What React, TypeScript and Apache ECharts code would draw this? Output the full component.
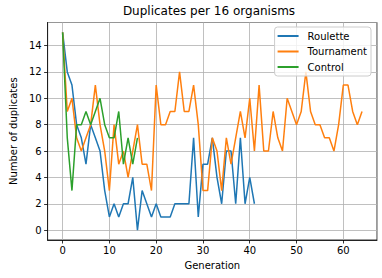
import React, { useEffect, useRef } from "react";
import * as echarts from "echarts";

const roulette = [15, 12, 11, 8, 7, 5, 8, 7, 6, 3, 1, 2, 1, 2, 2, 4, 0, 3, 2, 1, 2, 1, 1, 1, 2, 2, 2, 2, 7, 1, 5, 5, 7, 4, 2, 6, 6, 2, 7, 2, 4, 2];
const tournament = [15, 9, 10, 7, 6, 7, 8, 11, 8, 6, 3, 8, 5, 6, 4, 6, 8, 5, 5, 3, 11, 8, 8, 9, 9, 12, 9, 9, 11, 8, 3, 3, 7, 6, 3, 7, 5, 7, 9, 7, 10, 6, 11, 6, 6, 9, 7, 6, 10, 9, 8, 9, 12, 9, 8, 8, 7, 7, 6, 8, 11, 11, 9, 8, 9];
const control = [15, 7, 3, 8, 8, 9, 8, 9, 10, 8, 7, 7, 9, 5, 7, 5, 7];
const seriesNames = ["Roulette", "Tournament", "Control"];
const colors = ["#1f77b4", "#ff7f0e", "#2ca02c"];

const toPairs = (arr: number[]) => arr.map((v, i) => [i, v]);

export default function App() {
  const ref = useRef<HTMLDivElement>(null);
  useEffect(() => {
    if (!ref.current) return;
    const chart = echarts.init(ref.current, null, { renderer: "svg" });
    const font = "DejaVu Sans";
    const allData = [roulette, tournament, control];
    chart.setOption({
      animation: false,
      title: {
        text: "Duplicates per 16 organisms",
        left: 209,
        top: 5,
        padding: 0,
        textAlign: "center",
        textStyle: { fontFamily: font, fontSize: 12, fontWeight: "normal", color: "#000" },
      },
      legend: {
        data: seriesNames,
        orient: "vertical",
        right: 11,
        top: 27,
        padding: [3, 4, 3, 3],
        itemGap: 3.5,
        itemWidth: 21,
        itemHeight: 2,
        icon: "rect",
        borderColor: "#cccccc",
        borderWidth: 1,
        borderRadius: 3,
        backgroundColor: "rgba(255,255,255,0.8)",
        textStyle: { fontFamily: font, fontSize: 10, color: "#000", lineHeight: 12, padding: [0, 0, 0, 4] },
      },
      grid: {
        left: 41,
        right: 5,
        top: 22.5,
        bottom: 38,
        show: true,
        borderColor: "#000",
        borderWidth: 0.8,
        backgroundColor: "transparent",
      },
      xAxis: {
        type: "value",
        min: -3.2,
        max: 67.2,
        splitNumber: 7,
        name: "Generation",
        nameLocation: "middle",
        nameGap: 20,
        nameTextStyle: { fontFamily: font, fontSize: 10, color: "#000" },
        axisLine: { show: true, onZero: false, lineStyle: { color: "#000", width: 0.8 } },
        axisTick: { show: true, length: 3.5, lineStyle: { color: "#000", width: 0.8 } },
        axisLabel: { fontFamily: font, fontSize: 10, color: "#000", margin: 5, showMinLabel: false, showMaxLabel: false },
        splitLine: { show: true, lineStyle: { color: "#b0b0b0", width: 0.8 } },
      },
      yAxis: {
        type: "value",
        min: -0.75,
        max: 15.75,
        splitNumber: 8,
        name: "Number of duplicates",
        nameLocation: "middle",
        nameGap: 24,
        nameTextStyle: { fontFamily: font, fontSize: 10, color: "#000" },
        axisLine: { show: true, onZero: false, lineStyle: { color: "#000", width: 0.8 } },
        axisTick: { show: true, length: 3.5, lineStyle: { color: "#000", width: 0.8 } },
        axisLabel: { fontFamily: font, fontSize: 10, color: "#000", margin: 6, showMinLabel: false, showMaxLabel: false },
        splitLine: { show: true, lineStyle: { color: "#b0b0b0", width: 0.8 } },
      },
      series: seriesNames.map((name, i) => ({
        name,
        type: "line",
        data: toPairs(allData[i]),
        showSymbol: false,
        symbol: "none",
        color: colors[i],
        lineStyle: { color: colors[i], width: 1.5 },
      })),
    });
    return () => chart.dispose();
  }, []);
  return <div ref={ref} style={{ position: "absolute", left: 0, top: 0, width: 382, height: 278 }} />;
}
